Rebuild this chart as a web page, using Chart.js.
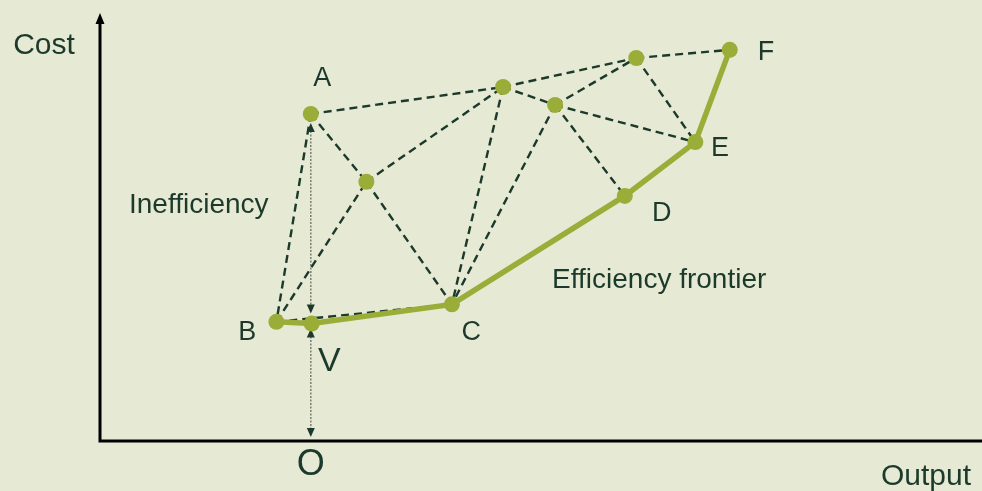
<!DOCTYPE html>
<html>
<head>
<meta charset="utf-8">
<script src="https://cdn.jsdelivr.net/npm/chart.js@4/dist/chart.umd.min.js"></script>
<style>
  html, body { margin: 0; padding: 0; background: #e6e9d3; overflow: hidden; }
  #wrap { width: 982px; height: 491px; position: relative; }
</style>
</head>
<body>
<div id="wrap"><canvas id="canvas" width="982" height="491"></canvas></div>
<script>
// 点の名前と座標 (Output, Cost)
const pointNames = ['A', 'B', 'V', 'C', 'M', 'P1', 'P2', 'D', 'E', 'F', 'P3'];
const outputValues = [2.39, 2.00, 2.40, 3.99, 3.02, 4.57, 5.16, 5.95, 6.75, 7.14, 6.08];
const costValues = [7.66, 2.79, 2.75, 3.20, 6.07, 8.29, 7.87, 5.74, 7.00, 9.16, 8.97];

// 効率的フロンティア
const frontier = ['B', 'V', 'C', 'D', 'E', 'F'];

// 破線で結ぶ組み合わせ
const dashedEdges = [
    ['A', 'B'], ['A', 'M'], ['A', 'P1'], ['B', 'M'], ['M', 'C'], ['M', 'P1'],
    ['P1', 'C'], ['P2', 'C'], ['P1', 'P2'], ['P1', 'P3'], ['P2', 'P3'],
    ['P2', 'D'], ['P2', 'E'], ['P3', 'E'], ['P3', 'F'], ['B', 'C'], ['D', 'E'], ['E', 'F']
];

// ラベル (点の名前, x方向のずれ, y方向のずれ)
const labelPoints = ['A', 'B', 'C', 'D', 'E', 'F', 'V'];
const labelDx = [0.13, -0.33, 0.22, 0.42, 0.28, 0.41, 0.2];
const labelDy = [0.82, -0.26, -0.67, -0.42, -0.14, -0.07, -0.9];
const labelSize = [27, 27, 27, 27, 27, 27, 34];

// その他のテキスト
const textItems = ['Cost', 'Output', 'O', 'Inefficiency', 'Efficiency frontier'];
const textX = [-0.635, 9.365, 2.39, 1.12, 6.34];
const textY = [9.25, -0.84, -0.56, 5.53, 3.77];
const textSize = [30, 30, 36, 28, 28];

const GREEN = '#9aad38';
const INK = '#1c3a2b';

function pt(name) {
    let i = pointNames.indexOf(name);
    return {x: outputValues[i], y: costValues[i]};
}

const datasets = [];

// 点(一番上, order が小さいほど上に描画)
datasets.push({
    data: pointNames.map(pt),
    showLine: false,
    pointRadius: 8,
    pointBackgroundColor: GREEN,
    pointBorderWidth: 0,
    clip: false,
    order: 0
});

// フロンティア
datasets.push({
    data: frontier.map(pt),
    showLine: true,
    borderColor: GREEN,
    borderWidth: 5.5,
    pointRadius: 0,
    clip: false,
    order: 1
});

// 破線
for (let i = 0; i < dashedEdges.length; i++) {
    datasets.push({
        data: [pt(dashedEdges[i][0]), pt(dashedEdges[i][1])],
        showLine: true,
        borderColor: INK,
        borderWidth: 2.4,
        borderDash: [8, 5],
        pointRadius: 0,
        clip: false,
        order: 2
    });
}

function arrowHead(ctx, x, y, dir) {
    // dir: 1 = 下向き, -1 = 上向き
    ctx.beginPath();
    ctx.moveTo(x, y);
    ctx.lineTo(x - 4, y - dir * 9);
    ctx.lineTo(x + 4, y - dir * 9);
    ctx.closePath();
    ctx.fill();
}

function dottedArrow(ctx, x, y1, y2, color) {
    ctx.save();
    ctx.strokeStyle = color;
    ctx.fillStyle = INK;
    ctx.lineWidth = 1.5;
    ctx.setLineDash([2, 1.5]);
    ctx.beginPath();
    ctx.moveTo(x, y1 + 8);
    ctx.lineTo(x, y2 - 8);
    ctx.stroke();
    ctx.setLineDash([]);
    arrowHead(ctx, x, y1, -1);
    arrowHead(ctx, x, y2, 1);
    ctx.restore();
}

const decorPlugin = {
    id: 'decor',
    beforeDraw(chart) {
        const ctx = chart.ctx;
        ctx.save();
        ctx.fillStyle = '#e6e9d3';
        ctx.fillRect(0, 0, chart.width, chart.height);
        ctx.restore();
    },
    beforeDatasetsDraw(chart) {
        const ctx = chart.ctx;
        const xs = chart.scales.x, ys = chart.scales.y;
        const area = chart.chartArea;
        // 軸
        ctx.save();
        ctx.strokeStyle = '#000';
        ctx.fillStyle = '#000';
        ctx.lineWidth = 3;
        ctx.beginPath();
        ctx.moveTo(area.left, area.top + 10);
        ctx.lineTo(area.left, area.bottom);
        ctx.lineTo(area.right, area.bottom);
        ctx.stroke();
        ctx.beginPath();
        ctx.moveTo(area.left, area.top - 1);
        ctx.lineTo(area.left - 4.5, area.top + 10);
        ctx.lineTo(area.left + 4.5, area.top + 10);
        ctx.closePath();
        ctx.fill();
        ctx.restore();

        // 点線の矢印
        let a = pt('A'), v = pt('V');
        let px = xs.getPixelForValue(a.x);
        dottedArrow(ctx, px, ys.getPixelForValue(a.y) + 9, ys.getPixelForValue(v.y) - 10, '#7a7f72');
        dottedArrow(ctx, px, ys.getPixelForValue(v.y) + 5, ys.getPixelForValue(0) - 4, '#7a7f72');
    },
    afterDatasetsDraw(chart) {
        const ctx = chart.ctx;
        const xs = chart.scales.x, ys = chart.scales.y;
        ctx.save();
        ctx.fillStyle = INK;
        ctx.textAlign = 'center';
        ctx.textBaseline = 'middle';
        for (let i = 0; i < labelPoints.length; i++) {
            let p = pt(labelPoints[i]);
            ctx.font = labelSize[i] + 'px "Liberation Sans", Arial, sans-serif';
            ctx.fillText(labelPoints[i], xs.getPixelForValue(p.x + labelDx[i]), ys.getPixelForValue(p.y + labelDy[i]));
        }
        for (let i = 0; i < textItems.length; i++) {
            ctx.font = textSize[i] + 'px "Liberation Sans", Arial, sans-serif';
            ctx.fillText(textItems[i], xs.getPixelForValue(textX[i]), ys.getPixelForValue(textY[i]));
        }
        ctx.restore();
    }
};

let chartInstance = new Chart(document.getElementById('canvas').getContext('2d'), {
    type: 'scatter',
    data: {datasets: datasets},
    options: {
        responsive: false,
        animation: false,
        layout: {autoPadding: false, padding: {left: 100, right: 0, top: 14, bottom: 50}},
        plugins: {legend: {display: false}, tooltip: {enabled: false}},
        scales: {
            x: {type: 'linear', min: 0, max: 10, display: false},
            y: {type: 'linear', min: 0, max: 10, display: false}
        }
    },
    plugins: [decorPlugin]
});
</script>
</body>
</html>
